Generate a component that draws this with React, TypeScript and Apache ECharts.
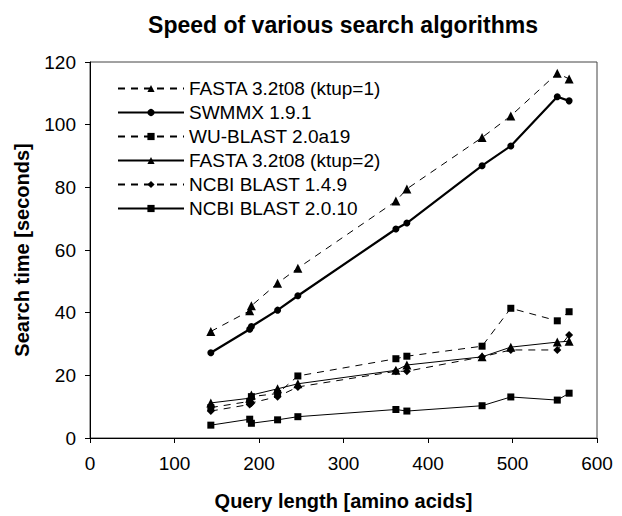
import React, { useEffect, useRef } from "react";
import * as echarts from "echarts";

const queryLengths = [143, 189, 191, 222, 246, 362, 375, 464, 498, 553, 567];
const fastaKtup1 = [34.0, 40.6, 42.2, 49.4, 54.2, 75.6, 79.5, 95.9, 102.8, 116.4, 114.6];
const swmmx = [27.2, 34.7, 35.6, 40.8, 45.4, 66.7, 68.6, 86.9, 93.2, 108.9, 107.6];
const wuBlast = [9.7, 11.7, 13.2, 14.2, 19.8, 25.3, 26.1, 29.3, 41.4, 37.4, 40.3];
const fastaKtup2 = [11.2, 12.7, 13.7, 15.7, 17.3, 21.6, 23.3, 25.9, 29.0, 30.6, 30.9];
const ncbi149 = [8.6, 10.7, 11.2, 13.2, 16.3, 21.3, 21.3, 25.9, 28.1, 28.1, 32.9];
const ncbi2010 = [4.1, 6.0, 4.7, 5.8, 6.8, 9.1, 8.6, 10.3, 13.1, 12.1, 14.3];

const seriesNames = [
  "FASTA 3.2t08 (ktup=1)",
  "SWMMX 1.9.1",
  "WU-BLAST 2.0a19",
  "FASTA 3.2t08 (ktup=2)",
  "NCBI BLAST 1.4.9",
  "NCBI BLAST 2.0.10",
];
const seriesValues = [fastaKtup1, swmmx, wuBlast, fastaKtup2, ncbi149, ncbi2010];
const seriesSymbols = ["triangle", "circle", "rect", "triangle", "diamond", "rect"];
const seriesDashed = [true, false, true, false, true, false];
const seriesWidths = [1, 2.2, 1, 1, 1, 1];

const xTicks = { min: 0, max: 600, interval: 100 };
const yTicks = { min: 0, max: 120, interval: 20 };

const FONT = "'Liberation Sans', Arial, sans-serif";

export default function App() {
  const ref = useRef<HTMLDivElement>(null);
  useEffect(() => {
    if (!ref.current) return;
    const chart = echarts.init(ref.current, undefined, { renderer: "svg" });
    const series = seriesNames.map((name, i) => ({
      name,
      type: "line",
      data: queryLengths.map((x, j) => [x, seriesValues[i][j]]),
      symbol: seriesSymbols[i],
      symbolSize: seriesSymbols[i] === "triangle" ? 9 : seriesSymbols[i] === "diamond" ? 8 : 7,
      showSymbol: true,
      itemStyle: { color: "#000" },
      lineStyle: {
        color: "#000",
        width: seriesWidths[i],
        type: seriesDashed[i] ? [7, 6] : "solid",
      },
      emphasis: { disabled: true },
    }));
    chart.setOption({
      animation: false,
      backgroundColor: "#fff",
      textStyle: { fontFamily: FONT, color: "#000" },
      graphic: [
        {
          type: "text",
          x: 343,
          y: 25,
          style: {
            text: "Speed of various search algorithms",
            font: `bold 23px ${FONT}`,
            fill: "#000",
            textAlign: "center",
            textVerticalAlign: "middle",
          },
        },
      ],
      legend: {
        orient: "vertical",
        left: 112,
        top: 74,
        itemWidth: 66,
        itemHeight: 9,
        itemGap: 5,
        textStyle: { fontSize: 19, fontFamily: FONT, color: "#000", lineHeight: 19 },
        data: seriesNames,
        selectedMode: false,
      },
      grid: {
        left: 90,
        right: 25,
        top: 62,
        bottom: 72,
        show: true,
        borderColor: "#444",
        borderWidth: 1,
      },
      xAxis: {
        type: "value",
        ...xTicks,
        name: "Query length [amino acids]",
        nameLocation: "middle",
        nameGap: 53,
        nameTextStyle: { fontSize: 20, fontWeight: "bold", fontFamily: FONT, color: "#000" },
        axisLine: { lineStyle: { color: "#000", width: 1 } },
        axisTick: { show: true, length: 5, lineStyle: { color: "#000" } },
        axisLabel: { fontSize: 19, color: "#000", fontFamily: FONT, margin: 16 },
        splitLine: { show: false },
      },
      yAxis: {
        type: "value",
        ...yTicks,
        name: "Search time [seconds]",
        nameLocation: "middle",
        nameGap: 58,
        nameTextStyle: { fontSize: 20, fontWeight: "bold", fontFamily: FONT, color: "#000" },
        axisLine: { show: true, lineStyle: { color: "#000", width: 1 } },
        axisTick: { show: true, length: 5, lineStyle: { color: "#000" } },
        axisLabel: { fontSize: 19, color: "#000", fontFamily: FONT, margin: 14 },
        splitLine: { show: false },
      },
      series,
    });
    return () => chart.dispose();
  }, []);
  return <div ref={ref} style={{ width: 622, height: 516, position: "absolute", left: 0, top: 0 }} />;
}
